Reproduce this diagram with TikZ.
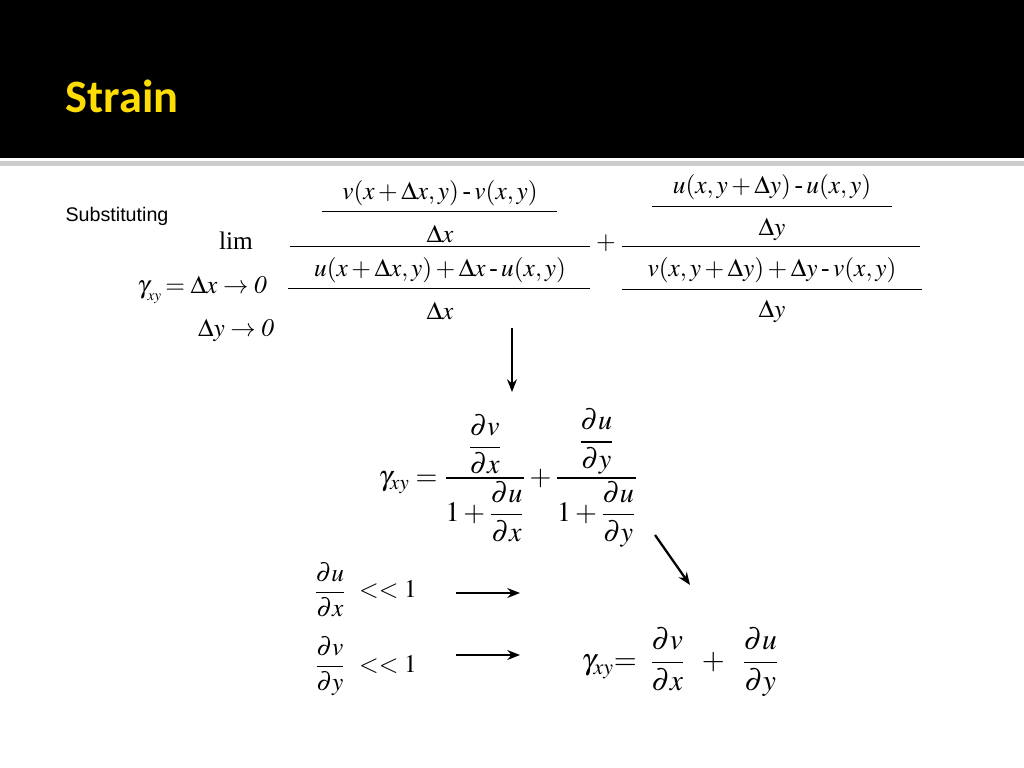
\documentclass[tikz,border=0pt]{standalone}
\usepackage{amsmath}
\usepackage{mathptmx}
\usepackage{fontspec}
\setmainfont{Liberation Serif}
\newfontfamily\titlefont{Carlito}
\newfontfamily\slidefont{Liberation Sans}
\usetikzlibrary{positioning,arrows.meta}
\begin{document}
\begin{tikzpicture}[x=0.025cm, y=-0.025cm,
  eq/.style={inner sep=0pt, font=\fontsize{18}{21}\selectfont},
  bar/.style={line width=0.6pt},
  big/.style={-{Stealth[length=9pt,width=7pt]}, line width=1.6pt}]
   \useasboundingbox (0,0) rectangle (1024,768);
   \fill [black] (0,0) rectangle (1024,158);
   \fill [gray!40] (0,161) rectangle (1024,166);
   \node (title) at (122,96) [text=yellow!80!orange, font=\titlefont\bfseries\fontsize{33}{36}\selectfont] {Strain};
   \node (subst) at (117,216) [font=\slidefont\fontsize{14}{16}\selectfont] {Substituting};

   % limit
   \node (lim) at (236,241) [eq] {lim};
   \node (gam) at (202,290) [eq] {$\gamma_{_{xy}}\!=\Delta x\rightarrow\mathit{0}$};
   \node (dy) at (236,330) [eq] {$\Delta y\rightarrow\mathit{0}$};

   % first fraction
   \node (n1) at (440,193) [eq] {$v(x+\Delta x,y)\mathbin{\text{-}}v(x,y)$};
   \draw [bar] (322,211) -- (557,211);
   \node (d1) at (440,234) [eq] {$\Delta x$};
   \draw [bar] (290,246) -- (590,246);
   \node (n2) at (440,270) [eq] {$u(x+\Delta x,y)+\Delta x\mathbin{\text{-}}u(x,y)$};
   \draw [bar] (288,288) -- (590,288);
   \node (d2) at (440,311) [eq] {$\Delta x$};
   \node (plus) at (606,243) [eq] {$+$};

   % second fraction
   \node (n3) at (772,187) [eq] {$u(x,y+\Delta y)\mathbin{\text{-}}u(x,y)$};
   \draw [bar] (652,206) -- (892,206);
   \node (d3) at (772,229) [eq] {$\Delta y$};
   \draw [bar] (622,246) -- (920,246);
   \node (n4) at (772,270) [eq] {$v(x,y+\Delta y)+\Delta y\mathbin{\text{-}}v(x,y)$};
   \draw [bar] (622,289) -- (922,289);
   \node (d4) at (772,311) [eq] {$\Delta y$};

   \coordinate (top) at (512,328);
   \coordinate (mid) at (512,392);
   \draw [big] (top) -- (mid);

   \node (gmid) at (508,478) [inner sep=0pt, font=\fontsize{20}{23}\selectfont] {$\gamma_{xy}=\dfrac{\dfrac{\partial v}{\partial x}}{1+\dfrac{\partial u}{\partial x}}+\dfrac{\dfrac{\partial u}{\partial y}}{1+\dfrac{\partial u}{\partial y}}$};

   \coordinate (s1) at (655,535);
   \coordinate (s2) at (690,585);
   \draw [big] (s1) -- (s2);

   \node (c1) at (330,590) [eq] {$\dfrac{\partial u}{\partial x}$};
   \node (l1) at (388,590) [eq] {$<<1$};
   \node (c2) at (330,666) [eq] {$\dfrac{\partial v}{\partial y}$};
   \node (l2) at (388,665) [eq] {$<<1$};
   \coordinate (a1) at (456,593);
   \coordinate (b1) at (520,593);
   \coordinate (a2) at (456,655);
   \coordinate (b2) at (520,655);
   \draw [big] (a1) -- (b1);
   \draw [big] (a2) -- (b2);

   \node (final) at (680,662) [inner sep=0pt, font=\fontsize{21}{24}\selectfont] {$\gamma_{xy}\!\!=\;\dfrac{\partial v}{\partial x}\;\;+\;\;\dfrac{\partial u}{\partial y}$};
\end{tikzpicture}
\end{document}
